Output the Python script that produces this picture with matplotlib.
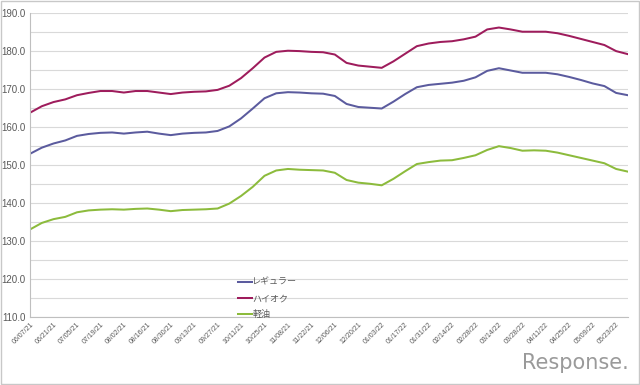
import matplotlib
matplotlib.use("Agg")
import matplotlib.pyplot as plt
from matplotlib.patches import Rectangle

plt.rcParams['font.family'] = ['Liberation Sans', 'Noto Sans CJK JP', 'DejaVu Sans']

# ── Data (weekly, 06/07/21 – 05/30/22) ─────────────────────────────────────────
tick_labels = ["06/07/21", "06/21/21", "07/05/21", "07/19/21", "08/02/21", "08/16/21",
               "08/30/21", "09/13/21", "09/27/21", "10/11/21", "10/25/21", "11/08/21",
               "11/22/21", "12/06/21", "12/20/21", "01/03/22", "01/17/22", "01/31/22",
               "02/14/22", "02/28/22", "03/14/22", "03/28/22", "04/11/22", "04/25/22",
               "05/09/22", "05/23/22"]

regular = [152.9, 154.5, 155.6, 156.4, 157.6, 158.1, 158.4, 158.5, 158.2, 158.5,
           158.7, 158.2, 157.8, 158.2, 158.4, 158.5, 158.9, 160.1, 162.2, 164.8,
           167.5, 168.8, 169.1, 169.0, 168.8, 168.7, 168.1, 166.0, 165.2, 165.0,
           164.8, 166.6, 168.6, 170.4, 171.0, 171.3, 171.6, 172.1, 173.0, 174.7,
           175.4, 174.8, 174.2, 174.2, 174.2, 173.8, 173.1, 172.3, 171.4, 170.7,
           168.9, 168.3]

high_octane = [163.7, 165.4, 166.5, 167.2, 168.3, 168.9, 169.4, 169.4, 169.0, 169.4,
               169.4, 169.0, 168.6, 169.0, 169.2, 169.3, 169.7, 170.8, 172.8, 175.4,
               178.2, 179.7, 180.0, 179.9, 179.7, 179.6, 179.0, 176.8, 176.1, 175.8,
               175.5, 177.2, 179.2, 181.2, 181.9, 182.3, 182.5, 183.0, 183.7, 185.6,
               186.1, 185.6, 185.0, 185.0, 185.0, 184.6, 183.9, 183.1, 182.3, 181.5,
               179.9, 179.1]

diesel = [133.0, 134.7, 135.7, 136.3, 137.5, 138.0, 138.2, 138.3, 138.2, 138.4,
          138.5, 138.2, 137.8, 138.1, 138.2, 138.3, 138.5, 139.8, 141.8, 144.2,
          147.1, 148.5, 148.9, 148.7, 148.6, 148.5, 147.9, 146.0, 145.3, 145.0,
          144.6, 146.3, 148.3, 150.2, 150.7, 151.1, 151.2, 151.8, 152.5, 153.9,
          154.9, 154.4, 153.7, 153.8, 153.7, 153.2, 152.5, 151.8, 151.1, 150.4,
          148.9, 148.2]

series = [("レギュラー", regular, "#5b5b9e"),
          ("ハイオク", high_octane, "#9e1c5c"),
          ("軽油", diesel, "#8cbb3c")]

# ── Plot ───────────────────────────────────────────────────────────────────────
fig = plt.figure(figsize=(6.4, 3.85), dpi=100)
ax = fig.add_axes([0.047, 0.177, 0.934, 0.790])

weeks = list(range(len(regular)))
for name, vals, color in series:
    ax.plot(weeks, vals, color=color, linewidth=1.45, label=name, solid_joinstyle="round")

ax.set_xlim(0, len(weeks) - 1)
ax.set_ylim(110, 190)
ax.set_yticks(range(110, 191, 10))
ax.set_yticks(range(115, 190, 10), minor=True)
ax.set_yticklabels([f"{v:.1f}" for v in range(110, 191, 10)], fontsize=7, color="#595959")
ax.set_xticks(range(0, len(weeks), 2))
ax.set_xticklabels(tick_labels, rotation=45, ha="right", rotation_mode="anchor",
                   fontsize=5, color="#595959")
ax.tick_params(axis="both", which="both", length=0, pad=3)

ax.grid(axis="y", which="both", color="#d9d9d9", linewidth=0.8)
ax.set_axisbelow(True)
for side in ("top", "right"):
    ax.spines[side].set_visible(False)
for side in ("left", "bottom"):
    ax.spines[side].set_color("#bfbfbf")
    ax.spines[side].set_linewidth(0.8)

leg = ax.legend(loc="lower left", bbox_to_anchor=(0.335, -0.035), frameon=False,
                fontsize=6.5, handlelength=1.5, handletextpad=0.05, labelspacing=0.8,
                labelcolor="#595959")

# watermark and outer border
fig.text(0.982, 0.03, "Response.", ha="right", va="bottom", fontsize=15,
         color="#9a9a9a", family="DejaVu Sans")
fig.patches.append(Rectangle((0.001, 0.002), 0.997, 0.995, transform=fig.transFigure,
                             fill=False, edgecolor="#c8c8c8", linewidth=1.0))

fig.savefig("out.png", dpi=100, facecolor="white")
